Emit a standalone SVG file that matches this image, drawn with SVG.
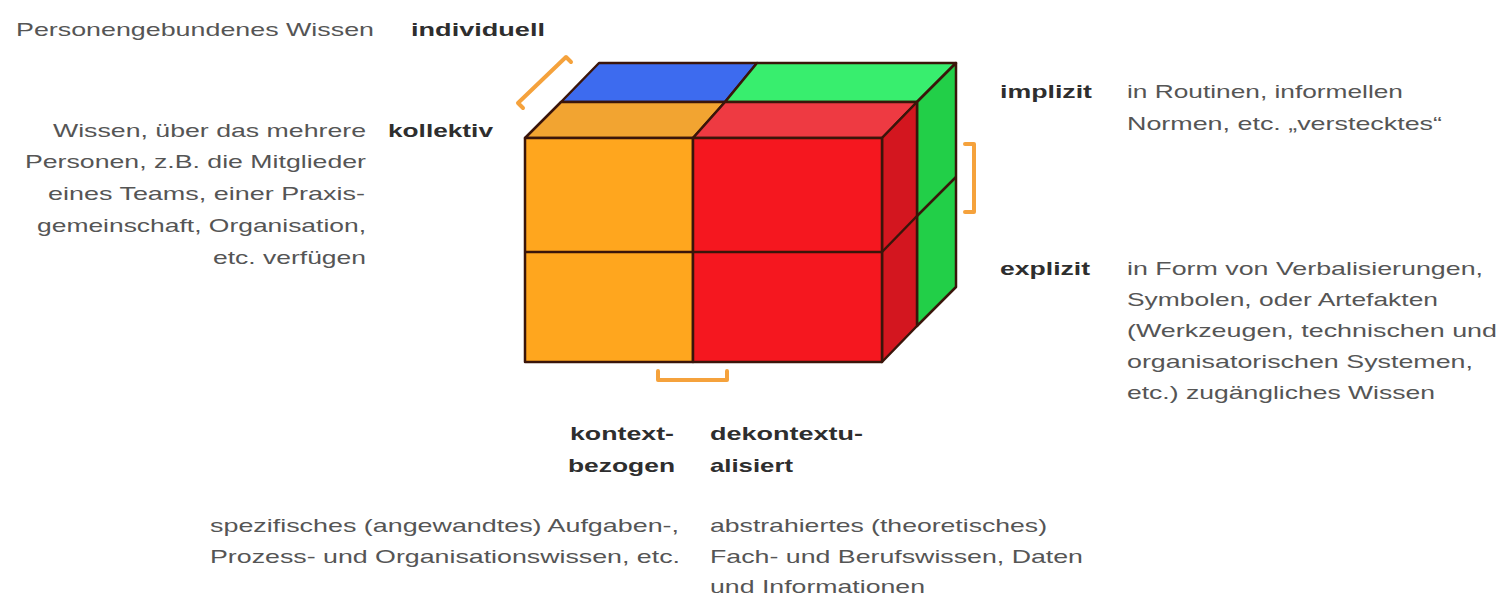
<svg xmlns="http://www.w3.org/2000/svg" width="1501" height="602" viewBox="0 0 1501 602">
<style>
text{font-family:"Liberation Sans",Arial,sans-serif;font-size:19px;fill:#555}
.b{font-weight:bold;fill:#2e2e2e}
.e{text-anchor:end}
.edge{stroke:#3a150a;stroke-width:2.5;stroke-linejoin:round}
.br{fill:none;stroke:#F5A23C;stroke-width:4;stroke-linejoin:round;stroke-linecap:round}
</style>
<rect width="1501" height="602" fill="#fff"/>
<g id="cube">
<polygon class="edge" fill="#3D6BEF" points="599,63 757,63 725,102 561,102"/>
<polygon class="edge" fill="#38EE6E" points="757,63 956,63 917,102 725,102"/>
<polygon class="edge" fill="#F2A431" points="561,102 725,102 693,138 525,138"/>
<polygon class="edge" fill="#EE3A42" points="725,102 917,102 882,138 693,138"/>
<polygon class="edge" fill="#22CF48" points="917,102 956,63 956,287 917,326"/>
<line class="edge" x1="917" y1="216" x2="956" y2="177"/>
<polygon class="edge" fill="#D3161F" points="882,138 917,102 917,326 882,362"/>
<line class="edge" x1="882" y1="252" x2="917" y2="216"/>
<rect class="edge" fill="#FFA61E" x="525" y="138" width="168" height="224"/>
<rect class="edge" fill="#F5171F" x="693" y="138" width="189" height="224"/>
<line class="edge" x1="525" y1="252" x2="882" y2="252"/>
</g>
<g id="connectors">
<path class="br" d="M523,108 L518,103 L566,57 L571,62"/>
<path class="br" d="M965,144 L974,144 L974,212 L965,212"/>
<path class="br" d="M658,371 L658,380 L727,380 L727,371"/>
</g>
<g id="individuell">
<text x="16" y="36" textLength="358" lengthAdjust="spacingAndGlyphs">Personengebundenes Wissen</text>
<text class="b" x="411" y="36" textLength="134" lengthAdjust="spacingAndGlyphs">individuell</text>
</g>
<g id="kollektiv">
<text class="b" x="388" y="137" textLength="105" lengthAdjust="spacingAndGlyphs">kollektiv</text>
<text class="e" x="366" y="137" textLength="313" lengthAdjust="spacingAndGlyphs">Wissen, über das mehrere</text>
<text class="e" x="366" y="168" textLength="341" lengthAdjust="spacingAndGlyphs">Personen, z.B. die Mitglieder</text>
<text class="e" x="365" y="200" textLength="317" lengthAdjust="spacingAndGlyphs">eines Teams, einer Praxis-</text>
<text class="e" x="366" y="232" textLength="329" lengthAdjust="spacingAndGlyphs">gemeinschaft, Organisation,</text>
<text class="e" x="366" y="264" textLength="153" lengthAdjust="spacingAndGlyphs">etc. verfügen</text>
</g>
<g id="implizit">
<text class="b" x="1000" y="98" textLength="92" lengthAdjust="spacingAndGlyphs">implizit</text>
<text x="1127" y="98" textLength="276" lengthAdjust="spacingAndGlyphs">in Routinen, informellen</text>
<text x="1127" y="130" textLength="315" lengthAdjust="spacingAndGlyphs">Normen, etc. „verstecktes“</text>
</g>
<g id="explizit">
<text class="b" x="1000" y="275" textLength="90" lengthAdjust="spacingAndGlyphs">explizit</text>
<text x="1127" y="275" textLength="356" lengthAdjust="spacingAndGlyphs">in Form von Verbalisierungen,</text>
<text x="1127" y="306" textLength="311" lengthAdjust="spacingAndGlyphs">Symbolen, oder Artefakten</text>
<text x="1127" y="337" textLength="370" lengthAdjust="spacingAndGlyphs">(Werkzeugen, technischen und</text>
<text x="1127" y="368" textLength="346" lengthAdjust="spacingAndGlyphs">organisatorischen Systemen,</text>
<text x="1127" y="399" textLength="308" lengthAdjust="spacingAndGlyphs">etc.) zugängliches Wissen</text>
</g>
<g id="kontextbezogen">
<text class="b e" x="674" y="440" textLength="104" lengthAdjust="spacingAndGlyphs">kontext-</text>
<text class="b e" x="675" y="472" textLength="107" lengthAdjust="spacingAndGlyphs">bezogen</text>
<text class="e" x="679" y="532" textLength="469" lengthAdjust="spacingAndGlyphs">spezifisches (angewandtes) Aufgaben-,</text>
<text class="e" x="680" y="563" textLength="470" lengthAdjust="spacingAndGlyphs">Prozess- und Organisationswissen, etc.</text>
</g>
<g id="dekontextualisiert">
<text class="b" x="710" y="440" textLength="153" lengthAdjust="spacingAndGlyphs">dekontextu-</text>
<text class="b" x="710" y="472" textLength="83" lengthAdjust="spacingAndGlyphs">alisiert</text>
<text x="710" y="532" textLength="337" lengthAdjust="spacingAndGlyphs">abstrahiertes (theoretisches)</text>
<text x="710" y="563" textLength="373" lengthAdjust="spacingAndGlyphs">Fach- und Berufswissen, Daten</text>
<text x="710" y="593" textLength="215" lengthAdjust="spacingAndGlyphs">und Informationen</text>
</g>
</svg>
